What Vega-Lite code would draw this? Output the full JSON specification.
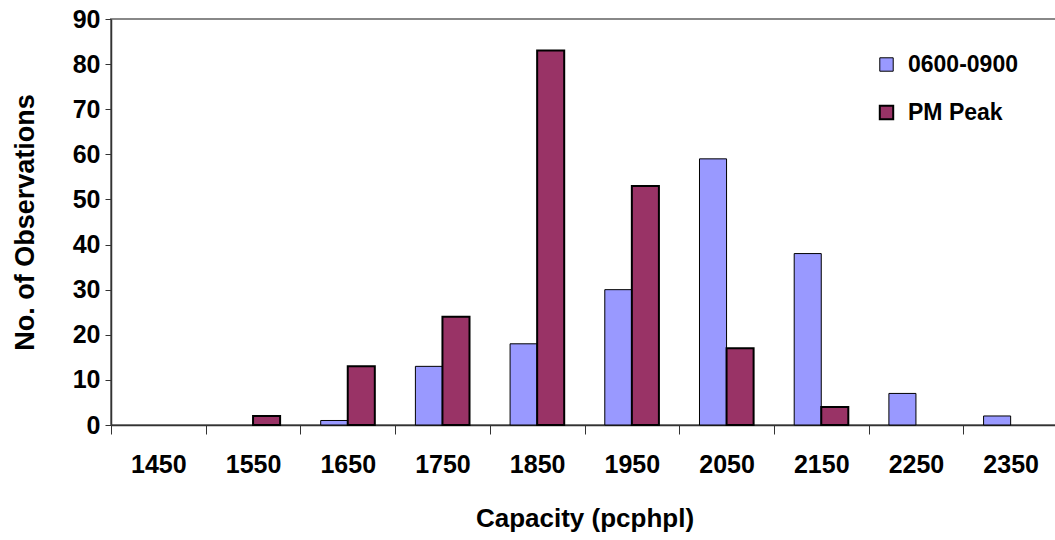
{
  "$schema": "https://vega.github.io/schema/vega-lite/v6.json",
  "autosize": "none",
  "padding": {"left": 111, "top": 19, "right": 0, "bottom": 115},
  "width": 947,
  "height": 406,
  "background": "white",
  "config": {
    "font": "Liberation Sans",
    "view": {"stroke": "#888888", "strokeWidth": 2}
  },
  "data": {
    "values": [
      {"capacity": "1450", "series": "0600-0900", "count": 0},
      {"capacity": "1550", "series": "0600-0900", "count": 0},
      {"capacity": "1650", "series": "0600-0900", "count": 1},
      {"capacity": "1750", "series": "0600-0900", "count": 13},
      {"capacity": "1850", "series": "0600-0900", "count": 18},
      {"capacity": "1950", "series": "0600-0900", "count": 30},
      {"capacity": "2050", "series": "0600-0900", "count": 59},
      {"capacity": "2150", "series": "0600-0900", "count": 38},
      {"capacity": "2250", "series": "0600-0900", "count": 7},
      {"capacity": "2350", "series": "0600-0900", "count": 2},
      {"capacity": "1450", "series": "PM Peak", "count": 0},
      {"capacity": "1550", "series": "PM Peak", "count": 2},
      {"capacity": "1650", "series": "PM Peak", "count": 13},
      {"capacity": "1750", "series": "PM Peak", "count": 24},
      {"capacity": "1850", "series": "PM Peak", "count": 83},
      {"capacity": "1950", "series": "PM Peak", "count": 53},
      {"capacity": "2050", "series": "PM Peak", "count": 17},
      {"capacity": "2150", "series": "PM Peak", "count": 4},
      {"capacity": "2250", "series": "PM Peak", "count": 0},
      {"capacity": "2350", "series": "PM Peak", "count": 0}
    ]
  },
  "transform": [{"filter": "datum.count > 0"}],
  "mark": {"type": "bar", "stroke": "black"},
  "encoding": {
    "x": {
      "field": "capacity",
      "type": "nominal",
      "sort": null,
      "scale": {
        "domain": ["1450", "1550", "1650", "1750", "1850", "1950", "2050", "2150", "2250", "2350"],
        "paddingInner": 0,
        "paddingOuter": 0
      },
      "axis": {
        "title": "Capacity (pcphpl)",
        "titleFontSize": 26,
        "titleFontWeight": "bold",
        "titleColor": "black",
        "titlePadding": 28,
        "labelAngle": 0,
        "labelFontSize": 25,
        "labelFontWeight": "bold",
        "labelColor": "black",
        "labelPadding": 18,
        "tickBand": "extent",
        "tickSize": 9,
        "tickColor": "#333333",
        "domainColor": "#333333",
        "domainWidth": 1.5
      }
    },
    "xOffset": {"field": "series", "type": "nominal", "scale": {"domain": ["0600-0900", "PM Peak"], "paddingInner": 0, "paddingOuter": 0.75}},
    "y": {
      "field": "count",
      "type": "quantitative",
      "scale": {"domain": [0, 90]},
      "axis": {
        "title": "No. of Observations",
        "titleFontSize": 27,
        "titleFontWeight": "bold",
        "titleColor": "black",
        "titlePadding": 33,
        "values": [0, 10, 20, 30, 40, 50, 60, 70, 80, 90],
        "labelFontSize": 25,
        "labelFontWeight": "bold",
        "labelColor": "black",
        "labelPadding": 5,
        "tickSize": 6,
        "tickColor": "#333333",
        "domainColor": "#333333",
        "domainWidth": 1.5,
        "grid": false
      }
    },
    "color": {
      "field": "series",
      "type": "nominal",
      "scale": {"domain": ["0600-0900", "PM Peak"], "range": ["#9999FF", "#993366"]},
      "legend": {
        "title": null,
        "orient": "none",
        "legendX": 764,
        "legendY": 34,
        "symbolType": "square",
        "symbolSize": 180,
        "symbolStrokeColor": "black",
        "symbolStrokeWidth": 1.5,
        "labelFontSize": 23,
        "labelFontWeight": "bold",
        "labelColor": "black",
        "labelOffset": 10,
        "rowPadding": 24
      }
    },
    "strokeWidth": {
      "field": "series",
      "type": "nominal",
      "scale": {"domain": ["0600-0900", "PM Peak"], "range": [1, 2]},
      "legend": null
    }
  }
}
